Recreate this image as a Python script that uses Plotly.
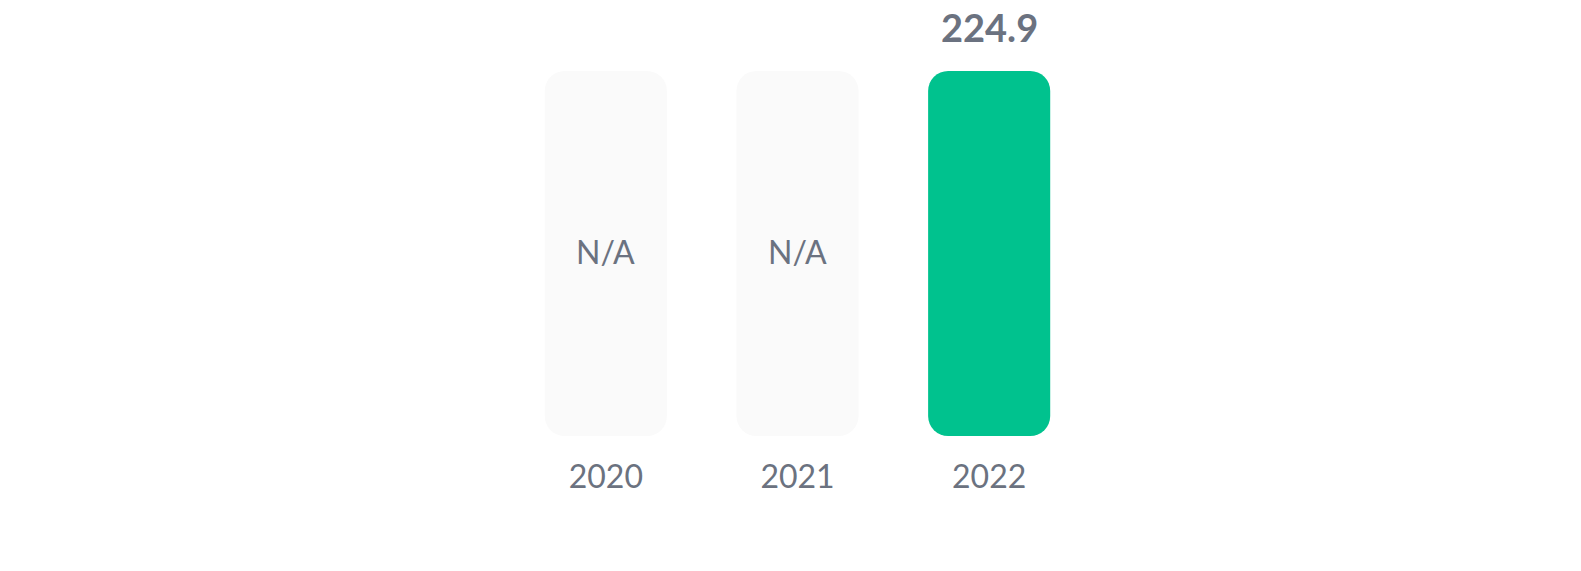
import plotly.graph_objects as go

categories = ["2020", "2021", "2022"]
values = [None, None, 224.9]
value_labels = ["N/A", "N/A", "224.9"]

GREEN = "#00c28e"
PLACEHOLDER = "#fafafa"
TEXT = "#6b7280"
FONT = "Lato"

vmax = max(v for v in values if v is not None)
heights = [v if v is not None else vmax for v in values]
colors = [GREEN if v is not None else PLACEHOLDER for v in values]

fig = go.Figure()
fig.add_trace(go.Bar(x=categories, y=heights, base=[0] * len(heights),
                     marker=dict(color=colors, line=dict(width=0), cornerradius=20),
                     width=0.637, hoverinfo="skip", showlegend=False))

# category axis: numeric-looking names would be read as indices, so annotations use the index
for i, (v, lab, h) in enumerate(zip(values, value_labels, heights)):
    if v is None:
        fig.add_annotation(x=i, y=h / 2, text=lab, showarrow=False, xref="x", yref="y",
                           yshift=2, font=dict(family=FONT, size=32, color=TEXT))
    else:
        fig.add_annotation(x=i, y=v, text="<b>" + lab + "</b>", showarrow=False, xref="x", yref="y",
                           yanchor="bottom", yshift=19, font=dict(family=FONT, size=38, color=TEXT))

fig.update_layout(
    autosize=True,
    margin=dict(l=510, r=496, t=71, b=135),
    plot_bgcolor="white", paper_bgcolor="white",
    xaxis=dict(type="category", range=[-0.5, 2.5], showgrid=False, zeroline=False, showline=False, ticks="",
               tickfont=dict(family=FONT, size=32, color=TEXT), ticklabelstandoff=19, fixedrange=True),
    yaxis=dict(range=[0, vmax], visible=False, fixedrange=True),
)

fig.write_html("out.html", config={"displayModeBar": False},
               default_width="100vw", default_height="100vh",
               post_script="document.body.style.margin='0';document.body.style.overflow='hidden';")
